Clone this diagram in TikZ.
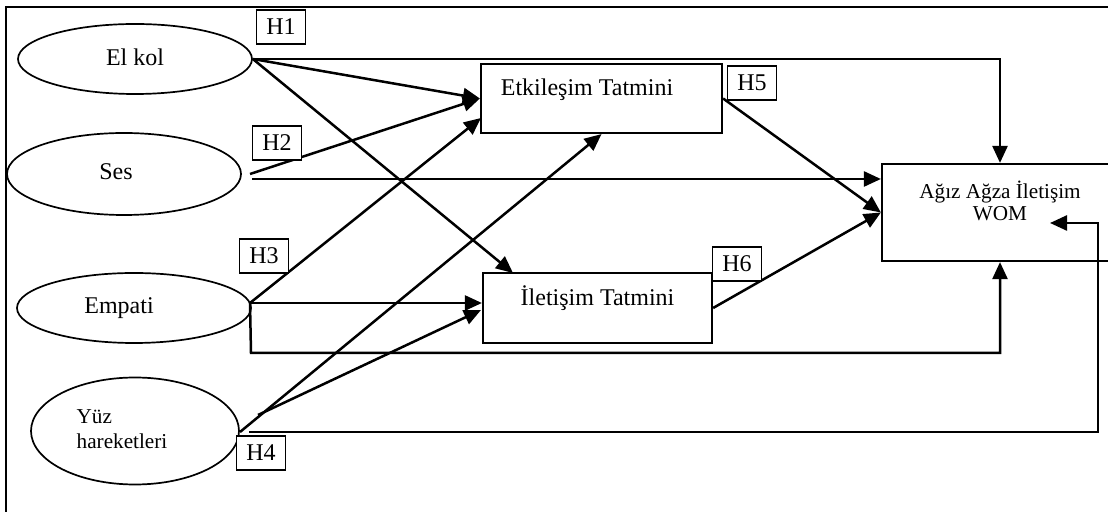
\documentclass[tikz,border=0pt]{standalone}
\usepackage{fontspec}
\setmainfont{Liberation Serif}
\usetikzlibrary{arrows.meta,shapes.geometric,calc}
\tikzset{
  base/.style={font=\fontsize{12}{13}\selectfont},
  small/.style={font=\fontsize{10.6}{11}\selectfont},
  oval/.style={ellipse,draw,line width=0.85pt,inner sep=0pt},
  bigbox/.style={rectangle,draw,line width=1.1pt,inner sep=0pt},
  hbox/.style={rectangle,draw,line width=0.65pt,inner sep=0pt,minimum width=24.5pt,minimum height=17pt,fill=white},
  conn/.style={line width=1.25pt,-{Triangle[length=8.5pt,width=7.5pt]}},
  thinline/.style={line width=0.65pt},
  frame/.style={line width=1.1pt}
}
\begin{document}
\begin{tikzpicture}[x=0.5pt,y=-0.5pt,base]
\clip (0,0) rectangle (1108,512);
% frame
\draw[frame] (6,514) -- (6,7) -- (1112,7);
% ellipses
\node[oval,minimum width=117pt,minimum height=35pt,label={[yshift=1pt]center:El kol}] (elkol) at (135,59) {};
\node[oval,minimum width=117pt,minimum height=41pt,label={[xshift=-4pt,yshift=1pt]center:Ses}] (ses) at (124,174) {};
\node[oval,minimum width=117pt,minimum height=35pt,label={[xshift=-7.5pt]center:Empati}] (empati) at (134,308) {};
\node[oval,minimum width=104pt,minimum height=53.5pt,label={[xshift=-6.5pt,yshift=1pt,align=left,font=\fontsize{10.6}{12.5}\selectfont]center:Yüz\\hareketleri}] (yuz) at (135,431) {};
% boxes
\node[bigbox,minimum width=120.5pt,minimum height=34.5pt,label={[xshift=-7.25pt,yshift=4.25pt]center:Etkileşim Tatmini}] (etk) at (601.5,98.5) {};
\node[bigbox,minimum width=114.5pt,minimum height=35pt,label={[yshift=5pt]center:İletişim Tatmini}] (ilet) at (597.5,308) {};
\node[bigbox,minimum width=118pt,minimum height=48.5pt,label={[yshift=6pt,align=center,small]center:Ağız Ağza İletişim\\WOM}] (wom) at (1000,212.5) {};
% start / end points
\coordinate (sesA) at (250,174);
\coordinate (sesB) at (252,179);
\coordinate (empA) at (250,303);
\coordinate (empB) at (251,353);
\coordinate (yzA) at (240,432);
\coordinate (yzB) at (258,415);
\coordinate (yzC) at (249,432);
\coordinate (yzM) at (533,432);
\coordinate (yzR) at (1098,432);
\coordinate (yzT) at (1098,223);
\coordinate (womTip) at (1050,223);
\coordinate (iletTop) at (513,273);
\coordinate (etkLow) at (481,118);
\coordinate (iletLow) at (481,310);
% connectors
\draw[conn] (elkol.east) -| (wom.north);
\draw[conn] (elkol.east) -- (etk.west);
\draw[conn] (elkol.east) -- (iletTop);
\draw[conn] (sesA) -- (etk.west);
\draw[conn] (sesB) -- (sesB -| wom.west);
\draw[conn] (empA) -- (etkLow);
\draw[conn] (empA) -- (empA -| ilet.west);
\draw[conn] (empA) -- (empB) -| (wom.south);
\draw[conn] (yzA) -- (etk.south);
\draw[conn] (yzB) -- (iletLow);
\draw[thinline] (yzC) -- (yzM);
\draw[conn] (yzM) -- (yzR) -- (yzT) -- (womTip);
\draw[conn] (etk.east) -- (wom.west);
\draw[conn] (ilet.east) -- (wom.west);
% hypothesis labels
\node[hbox] (h1) at (281,27) {H1};
\node[hbox] (h2) at (277,143) {H2};
\node[hbox] (h3) at (264,256) {H3};
\node[hbox] (h4) at (261,453) {H4};
\node[hbox] (h5) at (752,83) {H5};
\node[hbox] (h6) at (737,264) {H6};
\end{tikzpicture}
\end{document}
